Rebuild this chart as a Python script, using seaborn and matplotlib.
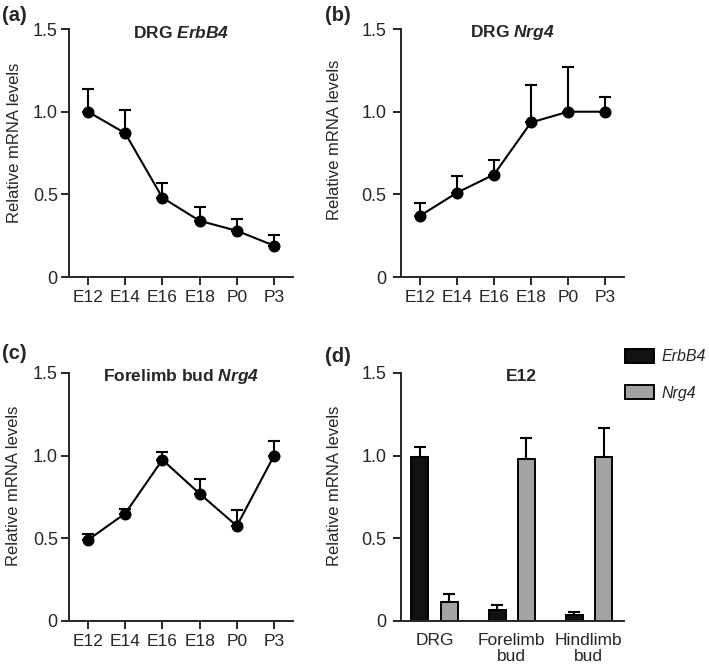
import numpy as np
import pandas as pd
import matplotlib
matplotlib.use("Agg")
import matplotlib.pyplot as plt
import seaborn as sns

# ---- data ----
stages = ["E12", "E14", "E16", "E18", "P0", "P3"]

drg_erbb4_mean = [1.00, 0.87, 0.48, 0.34, 0.28, 0.19]
drg_erbb4_sem = [0.14, 0.14, 0.09, 0.085, 0.07, 0.065]

drg_nrg4_mean = [0.37, 0.51, 0.62, 0.935, 1.00, 1.00]
drg_nrg4_sem = [0.08, 0.10, 0.085, 0.225, 0.27, 0.09]

limb_nrg4_mean = [0.49, 0.65, 0.975, 0.77, 0.575, 1.00]
limb_nrg4_sem = [0.035, 0.03, 0.045, 0.09, 0.095, 0.09]

tissues = ["DRG", "Forelimb\nbud", "Hindlimb\nbud"]
genes = ["ErbB4", "Nrg4"]
e12_erbb4_mean = [0.99, 0.065, 0.035]
e12_erbb4_sem = [0.065, 0.03, 0.02]
e12_nrg4_mean = [0.115, 0.98, 0.99]
e12_nrg4_sem = [0.05, 0.125, 0.18]

sns.set_style("ticks")
plt.rcParams["font.family"] = ["Liberation Sans", "DejaVu Sans"]
plt.rcParams["mathtext.fontset"] = "custom"
plt.rcParams["mathtext.rm"] = "Liberation Sans"
plt.rcParams["mathtext.it"] = "Liberation Sans:italic"
plt.rcParams["mathtext.bf"] = "Liberation Sans:bold"
plt.rcParams["mathtext.bfit"] = "Liberation Sans:bold:italic"
plt.rcParams["axes.linewidth"] = 1.4
plt.rcParams["xtick.major.width"] = 1.4
plt.rcParams["ytick.major.width"] = 1.4
plt.rcParams["xtick.major.size"] = 5.5
plt.rcParams["ytick.major.size"] = 5.5

fig = plt.figure(figsize=(7.09, 6.66), dpi=100)
ax_a = fig.add_axes([0.0973, 0.584, 0.316, 0.3724])
ax_b = fig.add_axes([0.5656, 0.584, 0.3145, 0.3724])
ax_c = fig.add_axes([0.0973, 0.0676, 0.316, 0.3724])
ax_d = fig.add_axes([0.5656, 0.0676, 0.3145, 0.3724])


def style_axis(ax, lab_x, lab_y, ypad):
    sns.despine(ax=ax)
    ax.set_ylim(0, 1.5)
    ax.set_yticks([0, 0.5, 1.0, 1.5])
    ax.set_yticklabels(["0", "0.5", "1.0", "1.5"], fontsize=13)
    ax.set_ylabel("Relative mRNA levels", fontsize=12)
    ax.yaxis.set_label_coords(lab_x, lab_y)
    ax.spines["left"].set_bounds(0, 1.5)
    ax.tick_params(axis="y", pad=ypad)
    ax.tick_params(axis="x", labelsize=12.5, pad=4)


def line_panel(ax, means, sems, title, lab_x, lab_y, ypad):
    df = pd.DataFrame({"stage": stages, "level": means})
    sns.pointplot(data=df, x="stage", y="level", color="black", errorbar=None,
                  markers="o", markersize=7.5, linewidth=1.5, ax=ax)
    ax.errorbar(np.arange(len(stages)), means, yerr=[np.zeros(len(sems)), sems],
                fmt="none", ecolor="black", elinewidth=1.5, capsize=4.5,
                capthick=1.5, zorder=1)
    ax.set_xlim(-0.51, 5.51)
    ax.set_xlabel("")
    style_axis(ax, lab_x, lab_y, ypad)
    ax.text(0.5, 0.986, title, transform=ax.transAxes, ha="center", va="center",
            fontsize=12.5, fontweight="bold")


line_panel(ax_a, drg_erbb4_mean, drg_erbb4_sem, "DRG $\\mathbfit{ErbB4}$",
           -0.21, 0.542, 2.5)
line_panel(ax_b, drg_nrg4_mean, drg_nrg4_sem, "DRG $\\mathbfit{Nrg4}$",
           -0.265, 0.554, 5)
line_panel(ax_c, limb_nrg4_mean, limb_nrg4_sem, "Forelimb bud $\\mathbfit{Nrg4}$",
           -0.215, 0.544, 2.5)

# ---- panel d: bars ----
bar_df = pd.DataFrame({
    "tissue": tissues * 2,
    "gene": [genes[0]] * 3 + [genes[1]] * 3,
    "level": e12_erbb4_mean + e12_nrg4_mean,
})
sns.barplot(data=bar_df, x="tissue", y="level", hue="gene",
            palette=["#111111", "#a3a3a3"], width=0.76, gap=0.42,
            edgecolor="black", linewidth=1.4, errorbar=None, ax=ax_d)
sems = e12_erbb4_sem + e12_nrg4_sem
bars = [p for p in ax_d.patches if p.get_height() > 0][:6]
xs = [b.get_x() + b.get_width() / 2 for b in bars]
hs = [b.get_height() for b in bars]
ax_d.errorbar(xs, hs, yerr=[np.zeros(6), sems], fmt="none", ecolor="black",
              elinewidth=1.5, capsize=4.5, capthick=1.5, zorder=0)
ax_d.set_xlim(-0.435, 2.455)
ax_d.set_xlabel("")
style_axis(ax_d, -0.265, 0.544, 5)
ax_d.tick_params(axis="x", length=0, pad=9)
for t in ax_d.get_xticklabels():
    t.set_linespacing(1.05)
ax_d.text(0.54, 0.986, "E12", transform=ax_d.transAxes, ha="center", va="center",
          fontsize=12.5, fontweight="bold")
ax_d.legend(loc="upper left", bbox_to_anchor=(0.8815, 0.476),
            bbox_transform=fig.transFigure, frameon=False,
            prop={"style": "italic", "size": 11.5}, handlelength=1.8,
            handleheight=0.95, labelspacing=1.3, handletextpad=0.5,
            borderpad=0, borderaxespad=0)

# panel letters
for lbl, x, y in [("(a)", 0.003, 0.977), ("(b)", 0.459, 0.977),
                  ("(c)", 0.003, 0.469), ("(d)", 0.459, 0.464)]:
    fig.text(x, y, lbl, fontsize=14.5, fontweight="bold", va="center", ha="left")

fig.savefig("out.png", dpi=100)
